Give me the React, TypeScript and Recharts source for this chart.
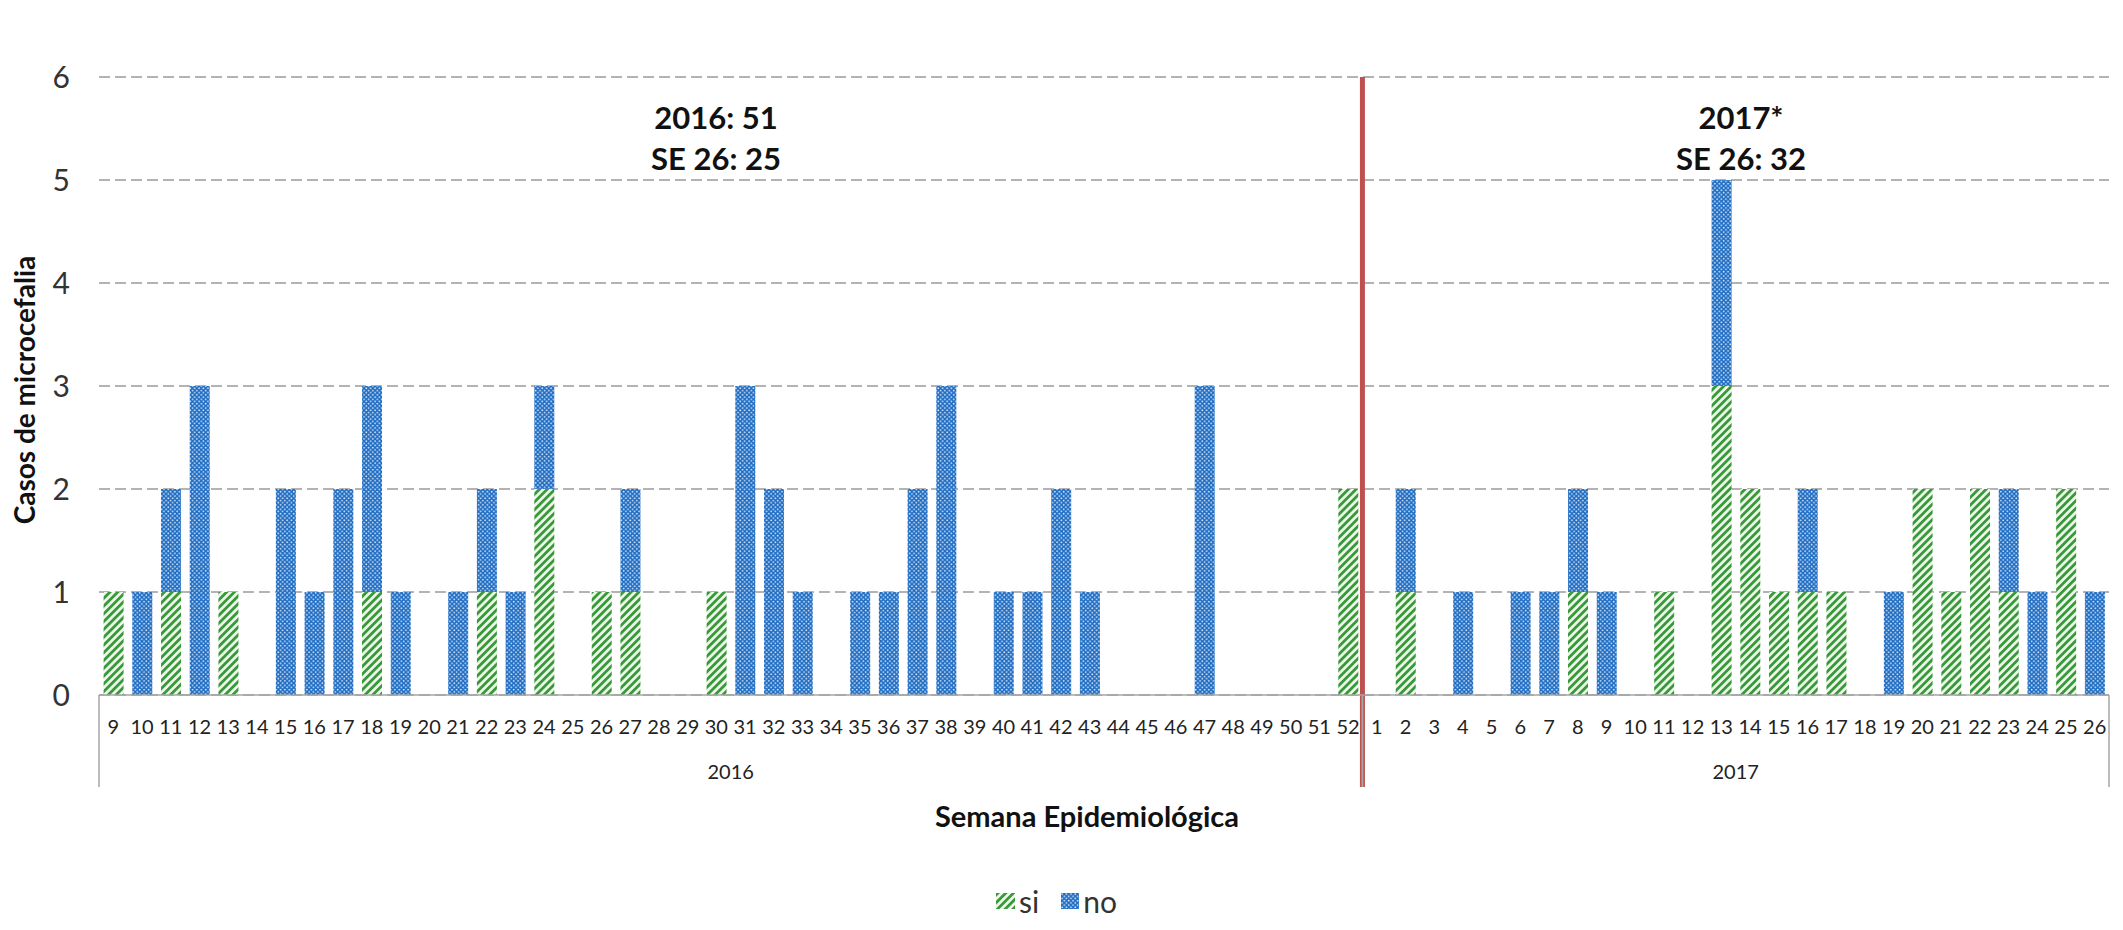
import React from 'react'
import { BarChart, Bar, XAxis, YAxis, CartesianGrid, ReferenceLine } from 'recharts'

const WEEKS_2016 = [
  '9', '10', '11', '12', '13', '14', '15', '16', '17', '18', '19', '20', '21', '22', '23',
  '24', '25', '26', '27', '28', '29', '30', '31', '32', '33', '34', '35', '36', '37', '38',
  '39', '40', '41', '42', '43', '44', '45', '46', '47', '48', '49', '50', '51', '52',
]
const WEEKS_2017 = [
  '1', '2', '3', '4', '5', '6', '7', '8', '9', '10', '11', '12', '13',
  '14', '15', '16', '17', '18', '19', '20', '21', '22', '23', '24', '25', '26',
]
const SI_2016 = [1, 0, 1, 0, 1, 0, 0, 0, 0, 1, 0, 0, 0, 1, 0, 2, 0, 1, 1, 0, 0, 1, 0, 0, 0, 0, 0, 0, 0, 0, 0, 0, 0, 0, 0, 0, 0, 0, 0, 0, 0, 0, 0, 2]
const NO_2016 = [0, 1, 1, 3, 0, 0, 2, 1, 2, 2, 1, 0, 1, 1, 1, 1, 0, 0, 1, 0, 0, 0, 3, 2, 1, 0, 1, 1, 2, 3, 0, 1, 1, 2, 1, 0, 0, 0, 3, 0, 0, 0, 0, 0]
const SI_2017 = [0, 1, 0, 0, 0, 0, 0, 1, 0, 0, 1, 0, 3, 2, 1, 1, 1, 0, 0, 2, 1, 2, 1, 0, 2, 0]
const NO_2017 = [0, 1, 0, 1, 0, 1, 1, 1, 1, 0, 0, 0, 2, 0, 0, 1, 0, 0, 1, 0, 0, 0, 1, 1, 0, 1]
const Y_TICKS = [0, 1, 2, 3, 4, 5, 6]
const YEARS = ['2016', '2017']

const data = [
  ...WEEKS_2016.map((w, i) => ({ key: `2016-${w}`, week: w, year: '2016', si: SI_2016[i], no: NO_2016[i] })),
  ...WEEKS_2017.map((w, i) => ({ key: `2017-${w}`, week: w, year: '2017', si: SI_2017[i], no: NO_2017[i] })),
]

const groups = YEARS.map(year => {
  const first = data.findIndex(d => d.year === year)
  const size = data.filter(d => d.year === year).length
  return { year, first, last: first + size - 1, size }
})

const W = 2123
const H = 930
const FONT = 'Lato, "Open Sans", sans-serif'
const WEEK_AXIS_H = 50
const YEAR_AXIS_H = 42
const HALF_BAND = 2010 / data.length / 2

function WeekTick(props: any) {
  const { x, y, payload } = props
  const d = data[payload.index]
  return (
    <text x={x} y={y + 39} textAnchor="middle" fontSize={20} fill="#222" fontFamily={FONT}>
      {d ? d.week : ''}
    </text>
  )
}

function YearTick(props: any) {
  const { x, y, payload } = props
  const index = payload.index
  const half = payload.offset > 0 ? payload.offset : HALF_BAND
  const out: React.ReactNode[] = []
  groups.forEach(g => {
    if (index === g.first) {
      out.push(<line key={g.year + 'l'} x1={x - half} x2={x - half} y1={y - WEEK_AXIS_H} y2={y + YEAR_AXIS_H} stroke="#a6a6a6" strokeWidth={1.5} />)
    }
    if (index === g.last) {
      out.push(<line key={g.year + 'r'} x1={x + half} x2={x + half} y1={y - WEEK_AXIS_H} y2={y + YEAR_AXIS_H} stroke="#a6a6a6" strokeWidth={1.5} />)
    }
    const mid = g.first + Math.floor(g.size / 2)
    if (index === mid) {
      const cx = g.size % 2 === 0 ? x - half : x
      out.push(
        <text key={g.year + 't'} x={cx} y={y + 34} textAnchor="middle" fontSize={20} fill="#222" fontFamily={FONT}>
          {g.year}
        </text>
      )
    }
  })
  return <g>{out}</g>
}

function Patterns({ prefix }: { prefix: string }) {
  return (
    <defs>
      <pattern id={`${prefix}-si`} patternUnits="userSpaceOnUse" width={5.5} height={5.5} patternTransform="rotate(45)">
        <rect width={5.5} height={5.5} fill="#eef7ea" />
        <rect width={2.8} height={5.5} fill="#38993a" />
      </pattern>
      <pattern id={`${prefix}-no`} patternUnits="userSpaceOnUse" width={4.4} height={4.4}>
        <rect width={4.4} height={4.4} fill="#1f6cc2" />
        <circle cx={1.1} cy={1.1} r={0.9} fill="#d6e8fb" />
        <circle cx={3.3} cy={3.3} r={0.9} fill="#d6e8fb" />
      </pattern>
    </defs>
  )
}

const redLine = (p: any) => {
  const top = Math.min(p.y1, p.y2)
  const bottom = Math.max(p.y1, p.y2)
  return <line x1={p.x1} y1={top} x2={p.x2} y2={bottom + WEEK_AXIS_H + YEAR_AXIS_H} stroke="#c0504d" strokeWidth={5} />
}

const textBase: React.CSSProperties = {
  position: 'absolute',
  fontFamily: FONT,
  whiteSpace: 'nowrap',
  transform: 'translate(-50%, -50%)',
  lineHeight: 1,
}

export default function App() {
  return (
    <div style={{ position: 'absolute', left: 0, top: 0, width: W, height: H, background: '#fff', overflow: 'hidden' }}>
      <BarChart
        width={W}
        height={H}
        data={data}
        margin={{ top: 77, right: 14, left: 0, bottom: H - 695 - WEEK_AXIS_H - YEAR_AXIS_H }}
        barCategoryGap="16%"
      >
        <Patterns prefix="c" />
        <CartesianGrid vertical={false} stroke="#9a9a9a" strokeDasharray="11 5" strokeWidth={1.3} />
        <XAxis
          dataKey="key"
          interval={0}
          height={WEEK_AXIS_H}
          tickSize={0}
          tickMargin={0}
          tickLine={false}
          axisLine={{ stroke: '#a6a6a6', strokeWidth: 1.5 }}
          tick={<WeekTick />}
        />
        <XAxis
          xAxisId="year"
          dataKey="key"
          interval={0}
          height={YEAR_AXIS_H}
          tickSize={0}
          tickMargin={0}
          tickLine={false}
          axisLine={false}
          tick={<YearTick />}
        />
        <YAxis
          domain={[0, 6]}
          ticks={Y_TICKS}
          width={99}
          axisLine={false}
          tickLine={false}
          tickSize={0}
          tickMargin={29}
          tick={{ fontSize: 30, fill: '#333', fontFamily: FONT }}
        />
        <Bar dataKey="si" stackId="a" fill="url(#c-si)" isAnimationActive={false} />
        <Bar dataKey="no" stackId="a" fill="url(#c-no)" isAnimationActive={false} />
        <ReferenceLine x="2017-1" position="start" shape={redLine} />
      </BarChart>

      <div style={{ ...textBase, left: 24, top: 390, fontSize: 28, fontWeight: 700, color: '#111', transform: 'translate(-50%, -50%) rotate(-90deg)' }}>
        Casos de microcefalia
      </div>
      <div style={{ ...textBase, left: 1087, top: 815, fontSize: 29, fontWeight: 700, color: '#111' }}>
        Semana Epidemiológica
      </div>
      <div style={{ ...textBase, left: 716, top: 117, fontSize: 31, fontWeight: 700, color: '#111' }}>2016: 51</div>
      <div style={{ ...textBase, left: 716, top: 158, fontSize: 31, fontWeight: 700, color: '#111' }}>SE 26: 25</div>
      <div style={{ ...textBase, left: 1741, top: 117, fontSize: 31, fontWeight: 700, color: '#111' }}>2017*</div>
      <div style={{ ...textBase, left: 1741, top: 158, fontSize: 31, fontWeight: 700, color: '#111' }}>SE 26: 32</div>

      <div style={{ position: 'absolute', left: 996, top: 884, height: 34, display: 'flex', alignItems: 'center', fontFamily: FONT, fontSize: 30, color: '#333' }}>
        <svg width={19} height={16} style={{ marginRight: 4 }}>
          <Patterns prefix="lg" />
          <rect width={19} height={16} fill="url(#lg-si)" />
        </svg>
        <span style={{ marginRight: 22 }}>si</span>
        <svg width={18} height={16} style={{ marginRight: 4 }}>
          <rect width={18} height={16} fill="url(#lg-no)" />
        </svg>
        <span>no</span>
      </div>
    </div>
  )
}
